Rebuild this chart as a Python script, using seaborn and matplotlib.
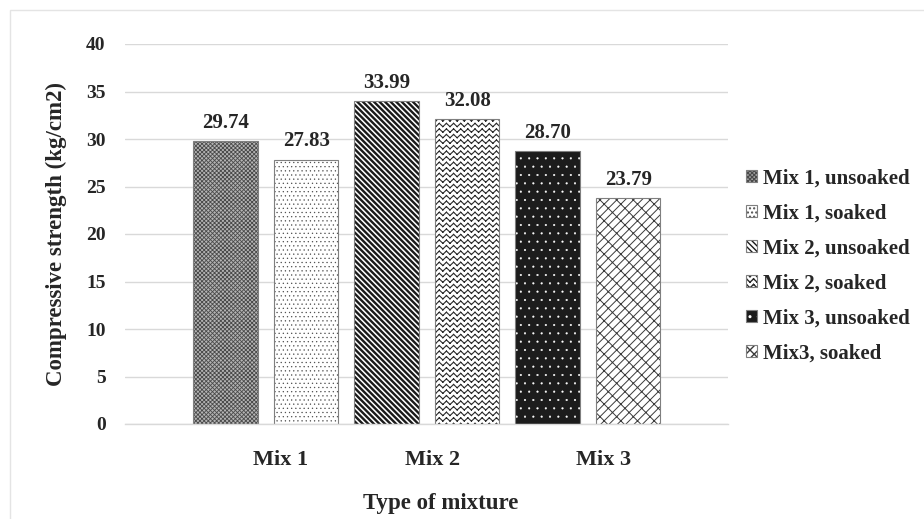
import numpy as np
import pandas as pd
import matplotlib
matplotlib.use("Agg")
import matplotlib.pyplot as plt
import matplotlib.hatch as mhatch
from matplotlib.path import Path
from matplotlib.colors import to_rgba
from matplotlib.patches import Rectangle
import seaborn as sns

# ---- data -------------------------------------------------------------
series = ["Mix 1, unsoaked", "Mix 1, soaked",
          "Mix 2, unsoaked", "Mix 2, soaked",
          "Mix 3, unsoaked", "Mix3, soaked"]
strength = [29.74, 27.83, 33.99, 32.08, 28.70, 23.79]
mix_labels = ["Mix 1", "Mix 2", "Mix 3"]
y_ticks = [0, 5, 10, 15, 20, 25, 30, 35, 40]

# where the group captions sit along the bar axis
mix_label_pos = [0.68, 2.57, 4.70]


# ---- extra hatch patterns (zigzag and diagonal brick) -----------------
class ZigzagHatch(mhatch.HatchPatternBase):
    def __init__(self, hatch, density):
        self.rows = int(hatch.count("z") * density)
        self.teeth = int(round(self.rows * 0.75))
        self.num_vertices = self.rows * self.teeth * 4

    def set_vertices_and_codes(self, vertices, codes):
        amp = 0.3 / self.rows
        pts = []
        for i in range(self.rows):
            yc = (i + 0.5) / self.rows
            for k in range(self.teeth):
                x0 = k / self.teeth
                xm = (k + 0.5) / self.teeth
                x1 = (k + 1) / self.teeth
                pts += [(x0, yc - amp), (xm, yc + amp),
                        (xm, yc + amp), (x1, yc - amp)]
        vertices[:] = pts
        codes[0::2] = Path.MOVETO
        codes[1::2] = Path.LINETO


class DiagonalBrickHatch(mhatch.HatchPatternBase):
    def __init__(self, hatch, density):
        n = int(hatch.count("b") * density * 2 // 3)
        n += n % 2
        segs = []
        if n:
            for k in range(-n, n + 1):
                c = k / n
                segs.append(((c, 0.0), (c + 1.0, 1.0)))
            h = 1.0 / (2 * n)
            for k in range(-n, n):
                c = k / n
                off = 0.5 if k % 2 else 0.0
                for j in range(-n, 2 * n + 1):
                    t = (j + off) / n
                    x0, y0 = c + t, t
                    if -0.2 <= x0 <= 1.2 and -0.2 <= y0 <= 1.2:
                        segs.append(((x0, y0), (x0 + h, y0 - h)))
        self.segs = segs
        self.num_vertices = len(segs) * 2

    def set_vertices_and_codes(self, vertices, codes):
        vertices[:] = [p for s in self.segs for p in s]
        codes[0::2] = Path.MOVETO
        codes[1::2] = Path.LINETO


mhatch._hatch_types.extend([ZigzagHatch, DiagonalBrickHatch])
mhatch._validate_hatch_pattern = lambda hatch: None

# ---- style ------------------------------------------------------------
sns.set_theme(style="white")
plt.rcParams["font.family"] = ["Liberation Serif", "DejaVu Serif"]
plt.rcParams["font.weight"] = "bold"
plt.rcParams["axes.labelweight"] = "bold"
TEXT = "#262626"
plt.rcParams["text.color"] = TEXT
plt.rcParams["axes.labelcolor"] = TEXT
plt.rcParams["xtick.color"] = TEXT
plt.rcParams["ytick.color"] = TEXT

GRID = "#d9d9d9"
EDGE = "#7f7f7f"

# facecolor, hatch, hatch colour, hatch line width
bar_styles = [
    ("#b4b4b4", "xxxxxxxx", "#4a4a4a", 0.6),
    ("white", "....", "#505050", 0.4),
    ("white", "\\\\\\\\\\\\", "#1a1a1a", 1.7),
    ("white", "zzz", "#2a2a2a", 0.8),
    ("#1c1c1c", "..", "white", 0.3),
    ("white", "bbb", "#3a3a3a", 0.7),
]

df = pd.DataFrame({"series": series, "strength": strength})

fig = plt.figure(figsize=(9.24, 5.19), dpi=100)
ax = fig.add_axes([125 / 924, 1 - 424 / 519, 603 / 924, 380 / 519])

sns.barplot(data=df, x="series", y="strength", hue="series",
            order=series, hue_order=series, palette=["white"] * 6,
            dodge=False, legend=False, width=0.8, saturation=1,
            edgecolor=EDGE, linewidth=0.8, ax=ax)

bars = sorted(ax.patches, key=lambda p: p.get_x())
for p, (face, hatch, hcol, hlw) in zip(bars, bar_styles):
    p.set_facecolor(face)
    p.set_edgecolor(EDGE)
    p.set_hatch(hatch)
    p._hatch_color = to_rgba(hcol)
    if hasattr(p, "set_hatch_linewidth"):
        p.set_hatch_linewidth(hlw)
    else:
        p._hatch_linewidth = hlw

for cont in ax.containers:
    ax.bar_label(cont, fmt="%.2f", padding=6, fontsize=15,
                 fontweight="bold", color=TEXT)

ax.set_xlim(-1.25, 6.24)
ax.set_ylim(0, 40)
ax.set_yticks(y_ticks)
ax.set_xticks(mix_label_pos, mix_labels)
ax.tick_params(axis="x", length=0, pad=19, labelsize=16)
ax.tick_params(axis="y", length=0, pad=14, labelsize=14)

ax.yaxis.grid(True, color=GRID, linewidth=1.0)
ax.xaxis.grid(False)
ax.set_axisbelow(True)
for side in ("left", "top", "right"):
    ax.spines[side].set_visible(False)
ax.spines["bottom"].set_color(GRID)
ax.spines["bottom"].set_linewidth(1.0)

ax.set_ylabel("Compressive strength (kg/cm2)", fontsize=16.5, fontweight="bold")
ax.yaxis.set_label_coords(-0.096, 0.5)
ax.set_xlabel("Type of mixture", fontsize=16.5, fontweight="bold")
ax.xaxis.set_label_coords(0.524, -0.182)

ax.legend(handles=bars, labels=series, loc="center left",
          bbox_to_anchor=(746 / 924, 1 - 266 / 519),
          bbox_transform=fig.transFigure, frameon=False, fontsize=15,
          handlelength=0.55, handleheight=0.55, handletextpad=0.25,
          labelspacing=0.72, borderpad=0, borderaxespad=0)

# faint chart-area frame
fig.add_artist(Rectangle((10 / 924, -0.05), 1.2, 1 - 10 / 519 + 0.05,
                         transform=fig.transFigure, fill=False,
                         edgecolor="#e4e4e4", linewidth=1.0))

fig.savefig("out.png", dpi=100)
